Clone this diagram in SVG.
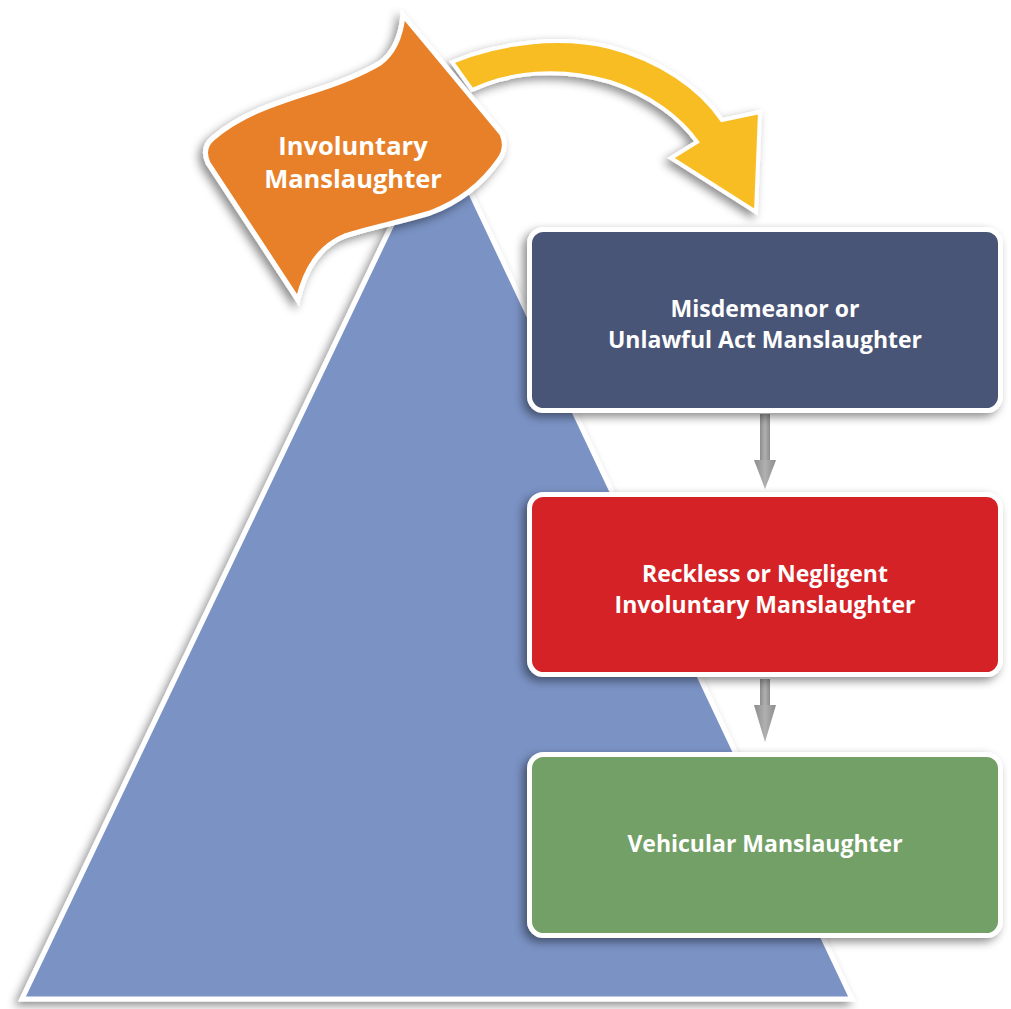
<svg xmlns="http://www.w3.org/2000/svg" width="1011" height="1009" viewBox="0 0 1011 1009">
<defs>
<filter id="sh" x="-20%" y="-20%" width="140%" height="140%">
<feDropShadow dx="-4" dy="4" stdDeviation="5" flood-color="#000" flood-opacity="0.45"/>
</filter>
<linearGradient id="gg" x1="0" y1="0" x2="1" y2="0">
<stop offset="0" stop-color="#8c8c8c"/><stop offset="0.5" stop-color="#b0b0b0"/><stop offset="1" stop-color="#8c8c8c"/>
</linearGradient>
<style>
.bx{stroke:#fff;stroke-width:5;filter:url(#sh)}
.t{font-family:"Open Sans","Noto Sans",sans-serif;font-weight:bold;fill:#fff;text-anchor:middle;font-size:23px}
</style>
</defs>
<g id="pyramid">
<polygon points="439,126 852,999 22,999" fill="#7a92c4" stroke="#fff" stroke-width="5" stroke-linejoin="miter" filter="url(#sh)"/>
</g>
<g id="connectors">
<path d="M452 62 C500 42 560 35 610 47 C660 60 700 88 722 120 L760 112 L756 212 L671 158 L697 142 C680 118 650 95 610 82 C560 67 510 72 472 90 Z" fill="#f7bd22" stroke="#fff" stroke-width="4" stroke-linejoin="miter" filter="url(#sh)"/>
<g fill="url(#gg)">
<rect x="760" y="414" width="10" height="50"/>
<polygon points="754,460 776,460 765,489"/>
<rect x="760" y="679" width="10" height="30"/>
<polygon points="754,705 776,705 765,742"/>
</g>
</g>
<g id="flag">
<path d="M403 15 L502 134 Q508 148 499 160 C485 180 465 200 430 213 C400 222 370 228 345 236 C320 246 305 270 298 300 L208 163 Q201 148 213 138 C240 115 270 105 307 93 C340 83 360 75 380 63 C395 52 401 35 403 15 Z" fill="#e8802a" stroke="#fff" stroke-width="5" stroke-linejoin="miter" filter="url(#sh)"/>
<text class="t" x="353" y="155" style="font-size:25.5px">Involuntary</text>
<text class="t" x="353" y="188" style="font-size:25.5px">Manslaughter</text>
</g>
<g id="box1">
<rect class="bx" x="529.5" y="229.5" width="471" height="181" rx="14" fill="#4a5576"/>
<text class="t" x="765" y="317">Misdemeanor or</text>
<text class="t" x="765" y="348">Unlawful Act Manslaughter</text>
</g>
<g id="box2">
<rect class="bx" x="529.5" y="494.5" width="471" height="180" rx="14" fill="#d42128"/>
<text class="t" x="765" y="582">Reckless or Negligent</text>
<text class="t" x="765" y="613">Involuntary Manslaughter</text>
</g>
<g id="box3">
<rect class="bx" x="529.5" y="754.5" width="471" height="181" rx="14" fill="#72a066"/>
<text class="t" x="765" y="852">Vehicular Manslaughter</text>
</g>
</svg>
